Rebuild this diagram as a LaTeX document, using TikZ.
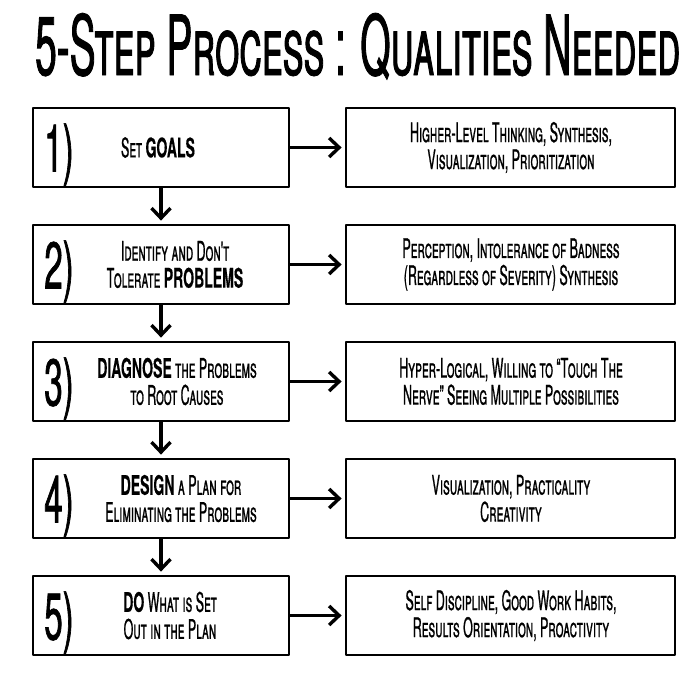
\documentclass[tikz,border=0pt]{standalone}
\usepackage{fontspec}
\usepackage{graphicx}
\usetikzlibrary{arrows.meta}
\newfontfamily\hand[Letters=SmallCaps,UprightFeatures={FakeStretch=0.46,FakeBold=0.7},BoldFeatures={FakeStretch=0.52,FakeBold=0.2}]{TeX Gyre Heros}
\newfontfamily\titlefont[Letters=SmallCaps,FakeStretch=0.46,FakeBold=1]{TeX Gyre Heros}
\newfontfamily\numfont[FakeStretch=0.5,FakeBold=1]{TeX Gyre Heros}
\newcommand\B[1]{{\bfseries #1}}
\begin{document}
\begin{tikzpicture}[x=1pt,y=-1pt,
  lbox/.style={draw, line width=2.8pt, line join=round, minimum width=256pt, minimum height=79pt, inner sep=0pt},
  rbox/.style={draw, line width=2.8pt, line join=round, minimum width=329pt, minimum height=79pt, inner sep=0pt},
  txt/.style={font=\hand\fontsize{27}{27}\selectfont, align=center, inner sep=0pt},
  num/.style={font=\numfont\fontsize{66}{66}\selectfont, inner sep=0pt, anchor=base},
  arr/.style={line width=3.4pt, shorten >=3pt, -{Straight Barb[length=10pt,width=19pt]}}]
\useasboundingbox (0,0) rectangle (700,675);
\node[anchor=base west, inner sep=0pt] (title) at (35,75)
  {\resizebox{645pt}{62pt}{\titlefont\fontsize{80}{80}\selectfont 5-Step Process : Qualities Needed}};
% boxes
\node[lbox] (L1) at (161,147.5) {};
\node[lbox] (L2) at (161,264.5) {};
\node[lbox] (L3) at (161,381.5) {};
\node[lbox] (L4) at (161,498.5) {};
\node[lbox] (L5) at (161,615.5) {};
\node[rbox] (R1) at (510.5,147.5) {};
\node[rbox] (R2) at (510.5,264.5) {};
\node[rbox] (R3) at (510.5,381.5) {};
\node[rbox] (R4) at (510.5,498.5) {};
\node[rbox] (R5) at (510.5,615.5) {};
% numbers
\node[num] (n1) at (59,171.5) {1)};
\node[num] (n2) at (59,288.5) {2)};
\node[num] (n3) at (59,405.5) {3)};
\node[num] (n4) at (59,522.5) {4)};
\node[num] (n5) at (59,639.5) {5)};
% left texts
\node[txt] (t1) at (158,147.5) {Set \B{GOALS}};
\node[txt] (t2) at (175,264.5) {Identify and Don't\\Tolerate \B{PROBLEMS}};
\node[txt] (t3) at (177,381.5) {\B{DIAGNOSE} the Problems\\to Root Causes};
\node[txt] (t4) at (181,498.5) {\B{DESIGN} a Plan for\\Eliminating the Problems};
\node[txt] (t5) at (170,615.5) {\B{DO} What is Set\\Out in the Plan};
% right texts
\node[txt] (q1) at (511,147.5) {Higher-Level Thinking, Synthesis,\\Visualization, Prioritization};
\node[txt] (q2) at (511,264.5) {Perception, Intolerance of Badness\\(Regardless of Severity) Synthesis};
\node[txt] (q3) at (511,381.5) {Hyper-Logical, Willing to “Touch The\\Nerve” Seeing Multiple Possibilities};
\node[txt] (q4) at (511,498.5) {Visualization, Practicality\\Creativity};
\node[txt] (q5) at (511,615.5) {Self Discipline, Good Work Habits,\\Results Orientation, Proactivity};
% arrows
\foreach \i in {1,...,5} {\draw[arr] (L\i.east) -- (R\i.west);}
\foreach \i/\j in {1/2,2/3,3/4,4/5} {\draw[arr] (L\i.south) -- (L\j.north);}
\end{tikzpicture}
\end{document}
